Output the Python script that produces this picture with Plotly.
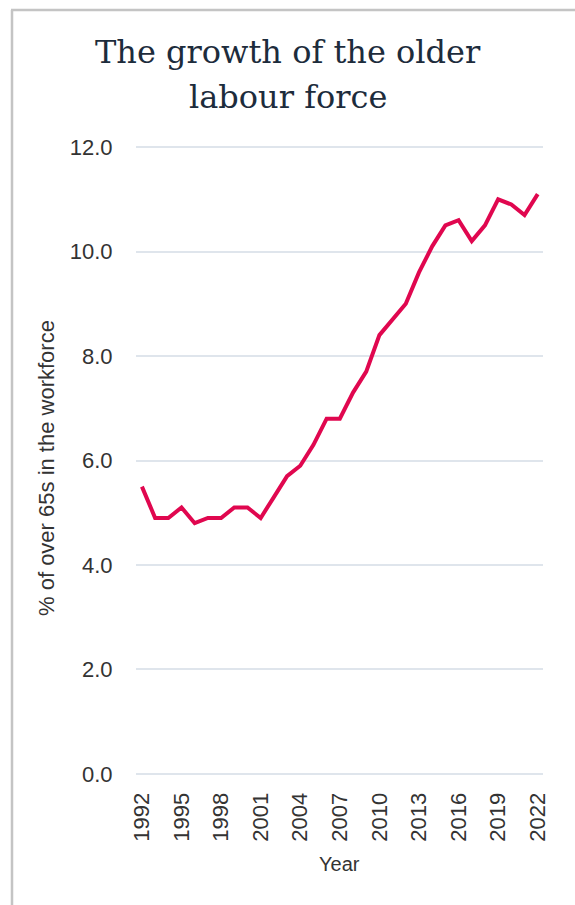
import plotly.graph_objects as go

years = list(range(1992, 2023))
share_over65 = [5.5, 4.9, 4.9, 5.1, 4.8, 4.9, 4.9, 5.1, 5.1, 4.9,
                5.3, 5.7, 5.9, 6.3, 6.8, 6.8, 7.3, 7.7, 8.4, 8.7,
                9.0, 9.6, 10.1, 10.5, 10.6, 10.2, 10.5, 11.0, 10.9, 10.7, 11.1]
x_ticks = list(range(1992, 2023, 3))
y_ticks = [0, 2, 4, 6, 8, 10, 12]
title_lines = ["The growth of the older", "labour force"]
x_title = "Year"
y_title = "% of over 65s in the workforce"

L, R, T, B = 136, 32, 146, 130
W, H = 575, 905
pw, ph = W - L - R, H - T - B

def px(x):
    return (x - L) / pw

def py(y):
    return (H - B - y) / ph

SANS = "Liberation Sans, Arial, Helvetica, sans-serif"

fig = go.Figure()
fig.add_trace(go.Scatter(x=years, y=share_over65, mode="lines",
                         line=dict(color="#e0074f", width=4),
                         hoverinfo="x+y", showlegend=False))

fig.update_layout(
    width=W, height=H,
    margin=dict(l=L, r=R, t=T, b=B),
    paper_bgcolor="white", plot_bgcolor="white",
    font=dict(family=SANS, color="#333333"),
    xaxis=dict(range=[1991.55, 2022.4], tickvals=x_ticks,
               ticktext=[str(v) for v in x_ticks], tickangle=-90,
               tickfont=dict(size=22, color="#333333"),
               showgrid=False, zeroline=False, showline=False,
               ticks="outside", ticklen=8, tickcolor="rgba(0,0,0,0)"),
    yaxis=dict(range=[-0.02, 12.02], tickvals=y_ticks,
               ticktext=[f"{v:.1f}" for v in y_ticks],
               tickfont=dict(size=22, color="#333333"),
               showgrid=True, gridcolor="#dfe5ec", gridwidth=1.5,
               zeroline=False, showline=False,
               ticks="outside", ticklen=18, tickcolor="rgba(0,0,0,0)"),
)

# axis titles
fig.add_annotation(text=y_title, xref="paper", yref="paper",
                   x=px(46), y=py(468), xanchor="center", yanchor="middle",
                   textangle=-90, showarrow=False,
                   font=dict(size=22, color="#333333", family=SANS))
fig.add_annotation(text=x_title, xref="paper", yref="paper",
                   x=px(339), y=py(864), xanchor="center", yanchor="middle",
                   showarrow=False,
                   font=dict(size=20, color="#333333", family=SANS))

# title lines, centred on the page
for txt, cy in [(title_lines[0], 52), (title_lines[1], 97)]:
    fig.add_annotation(text=txt, xref="paper", yref="paper",
                       x=px(W / 2), y=py(cy), xanchor="center", yanchor="middle",
                       showarrow=False,
                       font=dict(size=32, color="#1d2c3c", family="DejaVu Serif, Georgia, serif"))

# frame border (left and top)
fig.add_shape(type="line", xref="paper", yref="paper",
              x0=px(12), x1=px(12), y0=py(10), y1=py(H + 5),
              line=dict(color="#c4c4c4", width=2.5))
fig.add_shape(type="line", xref="paper", yref="paper",
              x0=px(11), x1=px(W + 5), y0=py(10), y1=py(10),
              line=dict(color="#c4c4c4", width=2.5))

fig.write_html("out.html", config={"displayModeBar": False},
               post_script="document.body.style.margin='0';document.body.style.overflow='hidden';")
